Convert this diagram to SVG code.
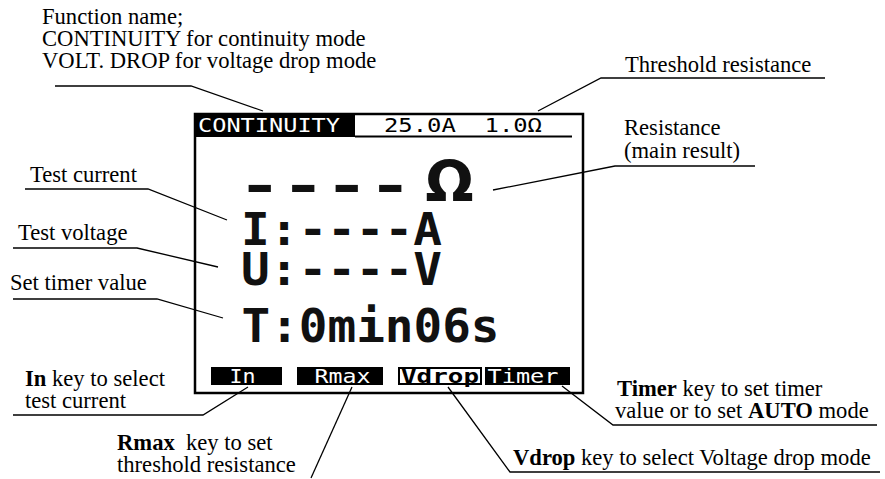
<svg xmlns="http://www.w3.org/2000/svg" width="885" height="479" viewBox="0 0 885 479">
<style>
.t{font-family:"Liberation Serif","Times New Roman",serif;font-size:22.6px;fill:#000}
.b{font-weight:bold}
.lcd{font-family:"DejaVu Sans Mono",monospace;fill:#000}
.lcdw{font-family:"DejaVu Sans Mono",monospace;fill:#fff}
.big{font-family:"DejaVu Sans Mono",monospace;font-weight:bold;fill:#111}
.ln{stroke:#000;stroke-width:1.3;fill:none}
.frame{stroke:#000;stroke-width:2.5;fill:#fff}
</style>
<rect width="885" height="479" fill="#fff"/>
<g id="screen">
  <rect class="frame" x="195" y="114" width="388" height="279"/>
  <rect x="195" y="114" width="160" height="23" fill="#000"/>
  <line x1="355" y1="136.5" x2="572" y2="136.5" stroke="#000" stroke-width="2"/>
  <text class="lcdw" x="198" y="132" font-size="19" textLength="142" lengthAdjust="spacingAndGlyphs">CONTINUITY</text>
  <text class="lcd" x="384" y="132" font-size="19" textLength="158" lengthAdjust="spacingAndGlyphs" xml:space="preserve">25.0A  1.0Ω</text>
  <text class="big" x="238" y="203" font-size="50" textLength="174" lengthAdjust="spacingAndGlyphs">----</text>
  <text x="449.5" y="202" font-family="DejaVu Sans" font-weight="bold" font-size="57" text-anchor="middle" fill="#111">Ω</text>
  <text class="big" x="241" y="245" font-size="44" textLength="201" lengthAdjust="spacingAndGlyphs">I:----A</text>
  <text class="big" x="241" y="285" font-size="44" textLength="201" lengthAdjust="spacingAndGlyphs">U:----V</text>
  <text class="big" x="241.5" y="342" font-size="46" textLength="258" lengthAdjust="spacingAndGlyphs">T:0min06s</text>
  <rect x="211" y="367" width="71" height="18" fill="#000"/>
  <rect x="297" y="367" width="86" height="18" fill="#000"/>
  <rect x="399" y="368" width="82" height="16" fill="#fff" stroke="#000" stroke-width="2"/>
  <rect x="485" y="367" width="85" height="18" fill="#000"/>
  <text class="lcdw" x="242.5" y="383" font-size="19" text-anchor="middle" textLength="26" lengthAdjust="spacingAndGlyphs">In</text>
  <text class="lcdw" x="342.5" y="383" font-size="19" text-anchor="middle" textLength="56" lengthAdjust="spacingAndGlyphs">Rmax</text>
  <text class="lcd" x="440" y="383" font-size="19" font-weight="bold" text-anchor="middle" textLength="78" lengthAdjust="spacingAndGlyphs">Vdrop</text>
  <text class="lcdw" x="523" y="383" font-size="19" text-anchor="middle" textLength="71" lengthAdjust="spacingAndGlyphs">Timer</text>
</g>
<g id="connectors">
  <polyline class="ln" points="55,86 191,86 263,111"/>
  <polyline class="ln" points="825,78 601,78 538,111"/>
  <polyline class="ln" points="755,166 615,166 493,190"/>
  <polyline class="ln" points="25,189 148,189 227,220"/>
  <polyline class="ln" points="13,248 137,248 218,267"/>
  <polyline class="ln" points="13,299 157,299 223,318"/>
  <polyline class="ln" points="13,415 203,415 248,387"/>
  <polyline class="ln" points="352,387 311,478"/>
  <polyline class="ln" points="448,387 510,472 880,472"/>
  <polyline class="ln" points="562,386 613,425 877,425"/>
</g>
<g id="label-function">
  <text class="t" x="42" y="24">Function name;</text>
  <text class="t" x="42" y="46">CONTINUITY for continuity mode</text>
  <text class="t" x="42" y="68">VOLT. DROP for voltage drop mode</text>
</g>
<g id="label-threshold"><text class="t" x="625" y="72">Threshold resistance</text></g>
<g id="label-resistance">
  <text class="t" x="624" y="135">Resistance</text>
  <text class="t" x="624" y="158">(main result)</text>
</g>
<g id="label-current"><text class="t" x="30" y="182">Test current</text></g>
<g id="label-voltage"><text class="t" x="18" y="240">Test voltage</text></g>
<g id="label-timer-value"><text class="t" x="10" y="290">Set timer value</text></g>
<g id="label-in">
  <text class="t" x="25" y="386"><tspan class="b">In</tspan> key to select</text>
  <text class="t" x="25" y="408">test current</text>
</g>
<g id="label-rmax">
  <text class="t" x="117" y="450" xml:space="preserve"><tspan class="b">Rmax</tspan>  key to set</text>
  <text class="t" x="117" y="472">threshold resistance</text>
</g>
<g id="label-vdrop"><text class="t" x="513" y="465"><tspan class="b">Vdrop</tspan> key to select Voltage drop mode</text></g>
<g id="label-timer">
  <text class="t" x="617" y="396"><tspan class="b">Timer</tspan> key to set timer</text>
  <text class="t" x="615" y="418">value or to set <tspan class="b">AUTO</tspan> mode</text>
</g>
</svg>
